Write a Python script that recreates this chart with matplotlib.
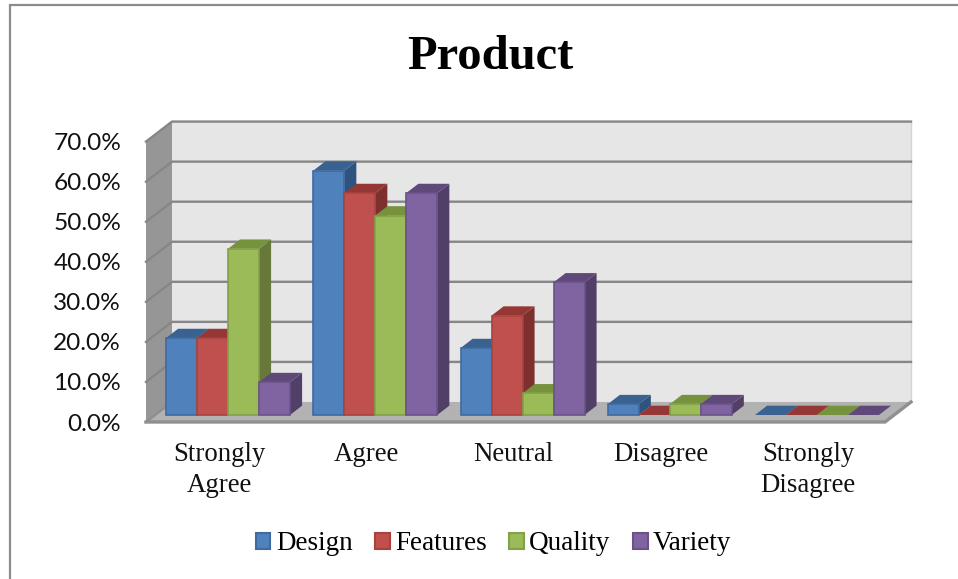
import matplotlib
matplotlib.use("Agg")
import matplotlib.pyplot as plt
from matplotlib.patches import Polygon, Rectangle

# Survey responses, percent of respondents
categories = ["Strongly\nAgree", "Agree", "Neutral", "Disagree", "Strongly\nDisagree"]
design = [19.2, 61.0, 16.7, 2.7, 0.0]
features = [19.2, 55.4, 24.8, 0.0, 0.0]
quality = [41.5, 49.8, 5.4, 2.7, 0.0]
variety = [8.2, 55.4, 33.1, 2.7, 0.0]
series_names = ["Design", "Features", "Quality", "Variety"]
y_ticks = [0, 10, 20, 30, 40, 50, 60, 70]

SERIES = [design, features, quality, variety]
FRONT = ["#4f81bd", "#c0504d", "#9bbb59", "#8064a2"]
EDGE = ["#3f6ba0", "#a8423f", "#83a04a", "#6a5289"]
TOP = ["#3a6291", "#953735", "#76923c", "#5f497a"]
SIDE = ["#2f5380", "#7e302e", "#66783a", "#523f68"]

W, H = 958, 579
fig = plt.figure(figsize=(W / 100, H / 100), dpi=100)
# Chart frame: runs off the right and bottom of the canvas
frame = Rectangle((10 / W, -0.05), 1.05, 1.05 - 5 / H, transform=fig.transFigure,
                  fc="white", ec="#8c8c8c", lw=1.6, zorder=-1)
fig.add_artist(frame)

# Axes span the front edge of the floor: 0-5 categories wide, 0-70 % tall
ax = fig.add_axes([146 / W, 1 - 422 / H, 739 / W, 280.4 / H])
ax.set_xlim(0, 5)
ax.set_ylim(0, 70)
ax.patch.set_visible(False)
ax.set_xticks([])
ax.set_yticks([])
for s in ax.spines.values():
    s.set_visible(False)

# Oblique projection: one unit of depth moves this far along x and y
DX, DY = 26 / 147.8, 5.0
def proj(x, y, d):
    return (x + d * DX, y + d * DY)

def poly(pts, fc, z=1):
    ax.add_patch(Polygon(pts, closed=True, fc=fc, ec="none", lw=0, zorder=z, clip_on=False))

ymax = y_ticks[-1]
# Walls and floor
poly([proj(0, 0, 1), proj(5, 0, 1), proj(5, ymax, 1), proj(0, ymax, 1)], "#e6e6e6", z=1)
poly([proj(0, 0, 0), proj(0, 0, 1), proj(0, ymax, 1), proj(0, ymax, 0)], "#969696", z=1)
poly([proj(0, 0, 0), proj(5, 0, 0), proj(5, 0, 1), proj(0, 0, 1)], "#b2b2b2", z=2)
ax.plot(*zip(proj(5, 0, 1), proj(5, ymax, 1)), color="#d4d4d4", lw=1, zorder=2, clip_on=False)

# Gridlines run around the left wall and along the back wall
for t in y_ticks[1:]:
    pts = [proj(0, t, 0), proj(0, t, 1), proj(5, t, 1)]
    ax.plot(*zip(*pts), color="#868686", lw=1.7, zorder=2, clip_on=False,
            solid_joinstyle="miter")
ax.plot(*zip(proj(0, 0, 0), proj(5, 0, 0), proj(5, 0, 1)), color="#8f8f8f", lw=2.4, zorder=3,
        clip_on=False, solid_joinstyle="miter")
ax.plot(*zip(proj(0, 0, 0), proj(0, 0, 1)), color="#8f8f8f", lw=1.8, zorder=3, clip_on=False)

# 3-D clustered columns, drawn back-to-front by category and series
BAR_W = 31 / 147.8
START = 20 / 147.8
PITCH = 147.25 / 147.8
D0, D1 = 0.35, 0.815
for c in range(len(categories)):
    for i, vals in enumerate(SERIES):
        v = vals[c]
        xa = c * PITCH + START + i * BAR_W - D0 * DX
        xbr = xa + BAR_W
        z = 5 + c * 10 + i
        poly([proj(xbr, 0, D0), proj(xbr, 0, D1), proj(xbr, v, D1), proj(xbr, v, D0)],
             SIDE[i], z=z)
        poly([proj(xa, v, D0), proj(xbr, v, D0), proj(xbr, v, D1), proj(xa, v, D1)],
             TOP[i], z=z + 0.1)
        fx, fy = proj(xa, 0, D0)
        if v > 0:
            ax.bar(fx, v, BAR_W, bottom=fy, align="edge", color=FRONT[i], edgecolor=EDGE[i],
                   linewidth=1.2, zorder=z + 0.2, clip_on=False)

# Axis labels
for t in y_ticks:
    ax.text(-0.169, t - 0.5, f"{t:.1f}%", ha="right", va="center", fontsize=17.6, family="Lato",
            color="#111111", clip_on=False)
for c, lab in enumerate(categories):
    ax.text(c * PITCH + 0.495, -5.0, lab, ha="center", va="top", fontsize=19.3,
            family="Liberation Serif", color="#111111", linespacing=1.32, clip_on=False)

fig.text(490 / W, 1 - 57 / H, "Product", ha="center", va="center", fontsize=35,
         family="Liberation Serif", weight="bold", color="black")

# Legend
handles = [Rectangle((0, 0), 1, 1, fc=FRONT[i], ec=EDGE[i], lw=1.5) for i in range(4)]
fig.legend(handles, series_names, loc="center", bbox_to_anchor=(493.5 / W, 1 - 544 / H), ncol=4,
           frameon=False, prop={"family": "Liberation Serif", "size": 19.5},
           handlelength=0.55, handleheight=0.55, handletextpad=0.2, columnspacing=0.82)

fig.savefig("out.png", dpi=100)
